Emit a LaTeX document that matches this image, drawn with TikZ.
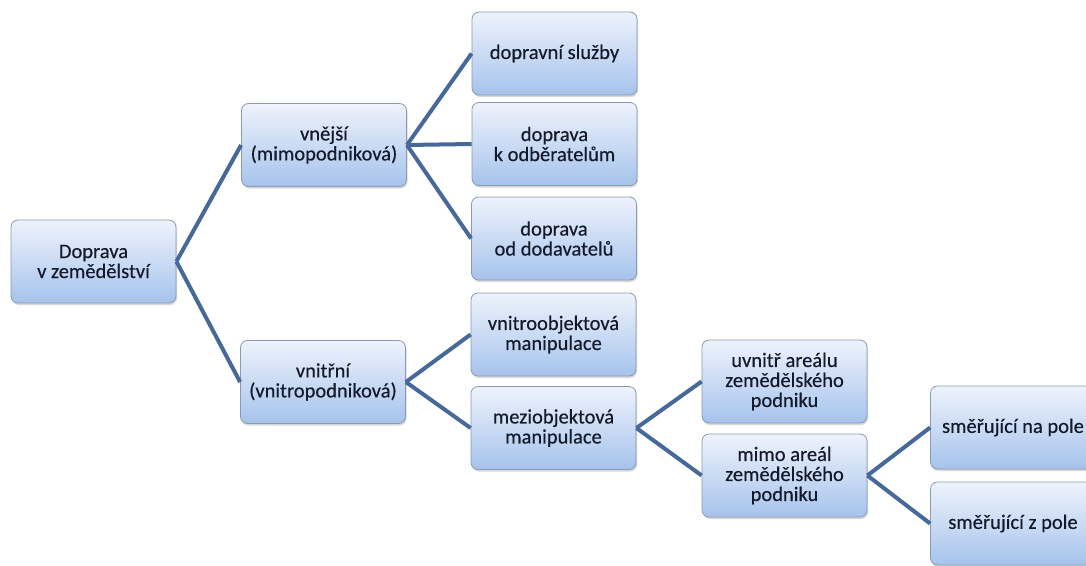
\documentclass[tikz,border=0pt]{standalone}
\usepackage{fontspec}
\setmainfont{Carlito}
\newfontface\boxfont{Carlito}[FakeBold=0.35]
\usetikzlibrary{shadows}
\definecolor{boxtop}{HTML}{EEF3FC}
\definecolor{boxbot}{HTML}{A6C3EC}
\definecolor{boxline}{HTML}{8A9AB0}
\definecolor{linkcol}{HTML}{46699A}
\definecolor{txtcol}{HTML}{141A2A}
\tikzset{
  box/.style={draw=boxline, line width=0.8pt, rounded corners=7pt,
    top color=boxtop, bottom color=boxbot,
    minimum width=165pt, minimum height=83pt, inner sep=2pt,
    align=center, text=txtcol, font=\boxfont\fontsize{20.5}{20}\selectfont,
    drop shadow={shadow xshift=1pt, shadow yshift=-2pt, opacity=0.25, fill=black!60}},
  link/.style={draw=linkcol, line width=4pt}
}
\begin{document}
\begin{tikzpicture}[x=1pt,y=-1pt]
\useasboundingbox (0,0) rectangle (1086,565);
\fill[white] (0,0) rectangle (1086,565);
\begin{scope}
\clip (0,0) rectangle (1086,565);
\node[box] (A) at (93.5,261.5) {Doprava\\v zemědělství};
\node[box] (B) at (324,145) {vnější\\(mimopodniková)};
\node[box] (C) at (323,382) {vnitřní\\(vnitropodniková)};
\node[box] (D1) at (554.5,53.5) {dopravní služby};
\node[box] (D2) at (554.5,144) {doprava\\k odběratelům};
\node[box] (D3) at (554,238.5) {doprava\\od dodavatelů};
\node[box] (E1) at (553.5,334.5) {vnitroobjektová\\manipulace};
\node[box] (E2) at (553.5,428) {meziobjektová\\manipulace};
\node[box] (F1) at (784.5,381.5) {uvnitř areálu\\zemědělského\\podniku};
\node[box] (F2) at (784.5,475.5) {mimo areál\\zemědělského\\podniku};
\node[box] (G1) at (1013,427.5) {směřující na pole};
\node[box] (G2) at (1013,523.5) {směřující z pole};
\draw[link] (A.east) -- (B.west);
\draw[link] (A.east) -- (C.west);
\draw[link] (B.east) -- (D1.west);
\draw[link] (B.east) -- (D2.west);
\draw[link] (B.east) -- (D3.west);
\draw[link] (C.east) -- (E1.west);
\draw[link] (C.east) -- (E2.west);
\draw[link] (E2.east) -- (F1.west);
\draw[link] (E2.east) -- (F2.west);
\draw[link] (F2.east) -- (G1.west);
\draw[link] (F2.east) -- (G2.west);
\end{scope}
\end{tikzpicture}
\end{document}
